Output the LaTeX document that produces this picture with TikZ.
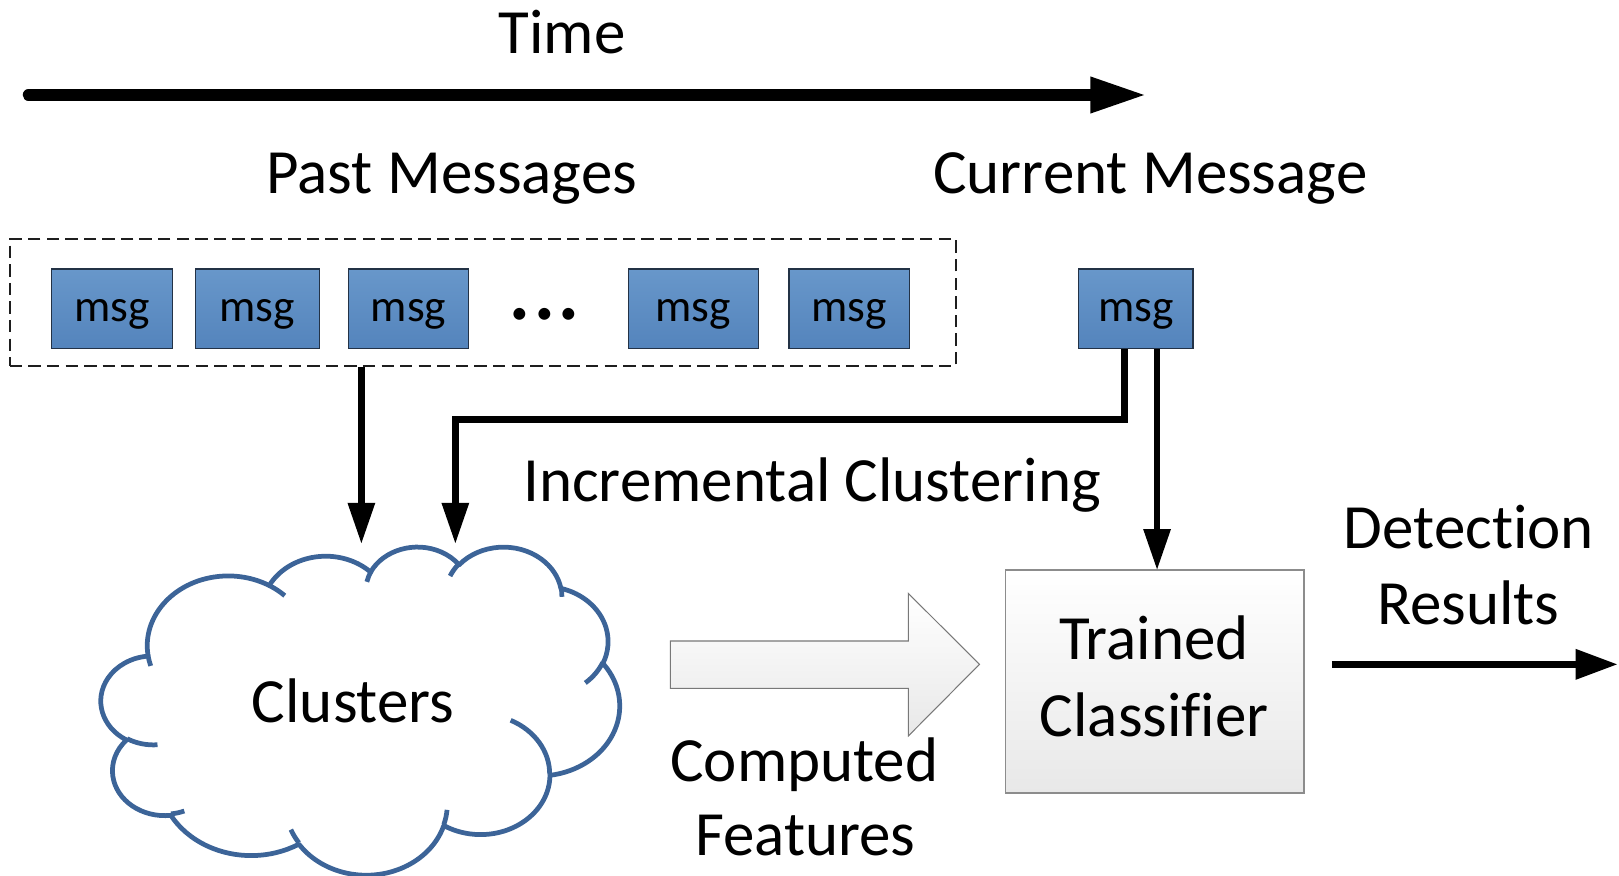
\documentclass[tikz,border=0pt]{standalone}
\usepackage{fontspec}
\setmainfont{Carlito}[Ligatures={TeX,NoCommon}]
\usetikzlibrary{arrows.meta}
\definecolor{msgtop}{RGB}{104,151,202}
\definecolor{msgbot}{RGB}{84,132,188}
\definecolor{msgedge}{RGB}{35,50,70}
\definecolor{cloudblue}{RGB}{60,100,152}
\definecolor{boxedge}{RGB}{140,140,140}
\definecolor{boxbot}{RGB}{232,232,232}
\definecolor{arredge}{RGB}{120,120,120}
\definecolor{dashcol}{RGB}{30,30,30}
\newcommand\cloudarc[4]{%
  \pgfmathsetmacro\clts{atan2(#1*sin(#3),#2*cos(#3))}%
  \pgfmathsetmacro\clte{atan2(#1*sin(#3+#4),#2*cos(#3+#4))}%
  \pgfmathsetmacro\cltd{mod(\clte-\clts+720,360)}%
  \pgfmathsetmacro\clte{\clts+\cltd}%
  \pgfpatharc{\clts}{\clte}{#1pt and #2pt}%
}
\begin{document}
\begin{tikzpicture}[x=1pt,y=-1pt,
  lbl/.style={inner sep=0pt, anchor=base, font=\fontsize{61}{73}\selectfont},
  msgbox/.style={draw=msgedge, line width=1.3pt, top color=msgtop, bottom color=msgbot,
    minimum height=77pt, inner sep=0pt, font=\fontsize{44}{50}\selectfont,
    text height=25pt, text depth=0pt},
  dashbox/.style={draw=dashcol, line width=1.5pt, dash pattern=on 12pt off 6pt,
    minimum width=916.3pt, minimum height=123pt, inner sep=0pt},
  clsbox/.style={draw=boxedge, line width=1.3pt, top color=white, bottom color=boxbot,
    minimum width=289pt, minimum height=216pt, inner sep=0pt},
  conn/.style={line width=6.5pt, -{Triangle[length=39pt,width=27pt,line width=0pt]}},
  outarrow/.style={line width=7pt, -{Triangle[length=40pt,width=30pt,line width=0pt]}},
  timearrow/.style={line width=11pt, line cap=round, -{Triangle[length=52pt,width=36pt,line width=0pt]}},
  blockarrow/.style={draw=arredge, line width=1pt, top color=white, bottom color=boxbot}
]
\useasboundingbox (0,0) rectangle (1568,848);

% Time axis
\node[lbl] (time) at (544.5,51.6) {Time};
\coordinate (tstart) at (27.5,92);
\coordinate (tend) at (1108,92);
\draw[timearrow] (tstart) -- (tend);

% headings
\node[lbl] (pastlbl) at (437.5,187) {Past Messages};
\node[lbl] (curlbl) at (1114,187) {Current Message};

% past messages
\node[dashbox] (past) at (467.65,293) {};
\node[msgbox, minimum width=117.6pt] (m1) at (108.5,299) {msg};
\node[msgbox, minimum width=119.8pt] (m2) at (249.3,299) {msg};
\node[msgbox, minimum width=116.7pt] (m3) at (395.65,299) {msg};
\node[lbl, font=\fontsize{95}{95}\selectfont] (dots) at (527.5,309.2) {...};
\node[msgbox, minimum width=125.6pt] (m4) at (671.5,299) {msg};
\node[msgbox, minimum width=116.4pt] (m5) at (822.4,299) {msg};

% current message
\node[msgbox, minimum width=111.1pt] (cur) at (1100,299) {msg};

% cloud
\begin{scope}[shift={(98,528.8)}, xscale=1.162, yscale=-0.7354]
  \pgfsetlinewidth{4.6pt}
  \pgfsetstrokecolor{cloudblue}
  \pgfsetfillcolor{white}
  \pgfsetroundjoin
  \pgfpathmoveto{\pgfpoint{39.00pt}{143.70pt}}
  \cloudarc{67.53}{91.90}{-190.4875}{123.7805}
  \cloudarc{53.33}{72.67}{-144.1024}{89.9452}
  \cloudarc{43.65}{59.45}{-145.8079}{99.7230}
  \cloudarc{48.57}{65.95}{-130.9861}{117.2417}
  \cloudarc{53.33}{72.73}{-78.7089}{109.0269}
  \cloudarc{67.75}{92.20}{-46.2673}{130.2690}
  \cloudarc{57.85}{78.67}{0.6250}{114.0333}
  \cloudarc{67.52}{92.15}{22.4516}{115.1726}
  \cloudarc{77.20}{105.43}{66.2426}{75.7110}
  \cloudarc{43.60}{59.18}{-274.9421}{146.7356}
  \cloudarc{43.45}{59.45}{-246.8285}{152.5189}
  \pgfpathclose
  \pgfusepath{fill,stroke}
  \pgfpathmoveto{\pgfpoint{46.93pt}{261.77pt}}\cloudarc{43.45}{59.45}{86.742}{26.4295}
  \pgfpathmoveto{\pgfpoint{69.28pt}{348.99pt}}\cloudarc{43.60}{59.18}{73.6105}{11.4475}
  \pgfpathmoveto{\pgfpoint{164.78pt}{390.90pt}}\cloudarc{67.52}{92.15}{137.6242}{14.0811}
  \pgfpathmoveto{\pgfpoint{288.27pt}{347.51pt}}\cloudarc{67.52}{92.15}{6.4533}{15.9984}
  \pgfpathmoveto{\pgfpoint{341.29pt}{229.54pt}}\cloudarc{57.85}{78.67}{-70.2924}{70.9174}
  \pgfpathmoveto{\pgfpoint{417.98pt}{153.54pt}}\cloudarc{53.33}{72.73}{30.318}{27.7515}
  \pgfpathmoveto{\pgfpoint{383.24pt}{54.26pt}}\cloudarc{48.57}{65.95}{-13.7443}{14.8589}
  \pgfpathmoveto{\pgfpoint{290.78pt}{39.52pt}}\cloudarc{48.57}{65.95}{-149.1815}{18.1954}
  \pgfpathmoveto{\pgfpoint{221.41pt}{47.20pt}}\cloudarc{43.65}{59.45}{-163.4943}{17.6864}
  \pgfpathmoveto{\pgfpoint{140.00pt}{51.92pt}}\cloudarc{67.53}{91.90}{-66.707}{12.3194}
  \pgfpathmoveto{\pgfpoint{41.27pt}{157.89pt}}\cloudarc{67.53}{91.90}{157.6544}{11.8582}
  \pgfusepath{stroke}
\end{scope}
\node[lbl] (clus) at (342,700) {Clusters};

% connectors to the clusters
\coordinate (c1) at (350,526);
\coordinate (c2) at (441,526);
\coordinate (bend) at (441,406);
\draw[conn] (past.south -| c1) -- (c1);
\draw[conn] ([xshift=-11pt]cur.south) |- (bend) -- (c2);
\node[lbl] (inc) at (786.5,485.5) {Incremental Clustering};

% classifier
\node[clsbox] (clf) at (1118.5,660) {};
\node[lbl] (clft) at (1117.5,639) {Trained};
\node[lbl] (clfc) at (1118,713.5) {Classifier};
\draw[conn] ([xshift=20.6pt]cur.south) -- ([xshift=20.6pt]cur.south |- clf.north);

% computed features block arrow
\draw[blockarrow] (649.3,620.8) -- (879.7,620.8) -- (879.7,574.7) -- (948.6,643.4)
  -- (879.7,712.8) -- (879.7,666.7) -- (649.3,666.7) -- cycle;
\node[lbl] (comp) at (779,757) {Computed};
\node[lbl] (feat) at (780,828.5) {Features};

% detection results
\node[lbl] (det) at (1422.6,531.7) {Detection};
\node[lbl] (res) at (1422,605.3) {Results};
\coordinate (dstart) at (1290,643.4);
\coordinate (dend) at (1566,643.4);
\draw[outarrow] (dstart) -- (dend);
\end{tikzpicture}
\end{document}
